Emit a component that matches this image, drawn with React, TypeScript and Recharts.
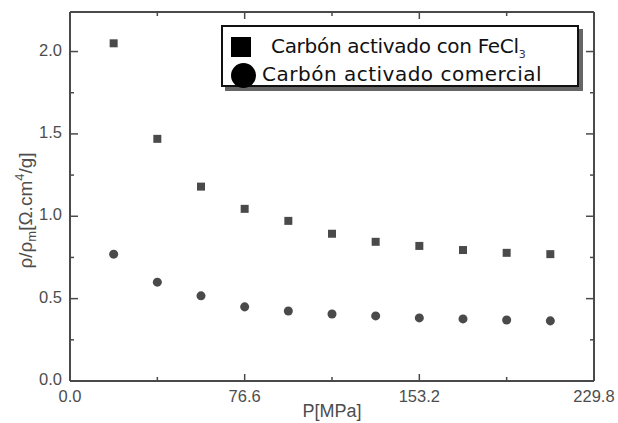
import React from 'react';
import { ScatterChart, Scatter, XAxis, YAxis, ZAxis } from 'recharts';

const pressure = [19.15, 38.3, 57.45, 76.6, 95.75, 114.9, 134.05, 153.2, 172.35, 191.5, 210.65];
const fecl3 = [2.05, 1.47, 1.18, 1.045, 0.972, 0.894, 0.845, 0.82, 0.795, 0.778, 0.77];
const comercial = [0.77, 0.6, 0.517, 0.45, 0.425, 0.407, 0.395, 0.383, 0.377, 0.37, 0.365];
const seriesNames = ['Carbón activado con FeCl', 'Carbón activado comercial'];
const xTicks = [0, 38.3, 76.6, 114.9, 153.2, 191.5, 229.8];
const xTickLabels = ['0.0', '', '76.6', '', '153.2', '', '229.8'];
const yTicks = [0, 0.25, 0.5, 0.75, 1.0, 1.25, 1.5, 1.75, 2.0];
const yTickLabels = ['0.0', '', '0.5', '', '1.0', '', '1.5', '', '2.0'];

const dataFe = pressure.map((p, i) => ({ x: p, y: fecl3[i] }));
const dataCo = pressure.map((p, i) => ({ x: p, y: comercial[i] }));

const AXIS = '#4a4a4a';
const TXT = '#4d4d4d';
const MARK = '#4a4a4a';
const tickFont = { fontFamily: '"Liberation Sans", Arial, sans-serif', fontSize: 16.5, fill: TXT };

const BottomTick = (props: any) => {
  const { x, y, index } = props;
  const major = xTickLabels[index] !== '';
  return (
    <g>
      <line x1={x} y1={y} x2={x} y2={y - (major ? 7 : 4)} stroke={AXIS} strokeWidth={1.5} />
      {major && (
        <text x={x} y={y + 21} textAnchor="middle" {...tickFont}>
          {xTickLabels[index]}
        </text>
      )}
    </g>
  );
};

const TopTick = (props: any) => {
  const { x, y, index } = props;
  const major = xTickLabels[index] !== '';
  return <line x1={x} y1={y} x2={x} y2={y + (major ? 7 : 4)} stroke={AXIS} strokeWidth={1.5} />;
};

const LeftTick = (props: any) => {
  const { x, y, index } = props;
  const major = yTickLabels[index] !== '';
  return (
    <g>
      <line x1={x} y1={y} x2={x + (major ? 8 : 4)} y2={y} stroke={AXIS} strokeWidth={1.5} />
      {major && (
        <text x={x - 8} y={y + 4} textAnchor="end" {...tickFont}>
          {yTickLabels[index]}
        </text>
      )}
    </g>
  );
};

const RightTick = (props: any) => {
  const { x, y, index } = props;
  const major = yTickLabels[index] !== '';
  return <line x1={x} y1={y} x2={x - (major ? 8 : 4)} y2={y} stroke={AXIS} strokeWidth={1.5} />;
};

const YLabel = (props: any) => {
  const vb = props.viewBox || { x: 0, y: 12, width: 70, height: 369 };
  const cx = vb.x + 32;
  const cy = vb.y + vb.height / 2 + 14;
  return (
    <text
      x={cx}
      y={cy}
      transform={`rotate(-90, ${cx}, ${cy})`}
      textAnchor="middle"
      fontFamily='"Liberation Sans", Arial, sans-serif'
      fontSize={19}
      fill={TXT}
    >
      ρ/ρ
      <tspan fontSize={13} dy={4}>m</tspan>
      <tspan dy={-4}>[Ω.cm</tspan>
      <tspan fontSize={13} dy={-8}>4</tspan>
      <tspan dy={8}>/g]</tspan>
    </text>
  );
};

const XLabel = (props: any) => {
  const vb = props.viewBox || { x: 70, y: 381, width: 524, height: 42 };
  return (
    <text
      x={vb.x + vb.width / 2}
      y={vb.y + 36}
      textAnchor="middle"
      fontFamily='"Liberation Sans", Arial, sans-serif'
      fontSize={18}
      fill={TXT}
    >
      P[MPa]
    </text>
  );
};

const LegendBox = () => {
  const font = { fontFamily: '"DejaVu Sans", sans-serif', fontSize: 20, color: '#111' };
  return (
    <div
      style={{
        position: 'absolute',
        left: 221,
        top: 25,
        width: 354,
        height: 58,
        border: '2px solid #111',
        boxShadow: '4px 4px 0 #666',
        background: '#fff',
        boxSizing: 'content-box',
      }}
    >
      <div style={{ position: 'absolute', left: 8, top: 10, width: 20, height: 20, background: '#000' }} />
      <div style={{ ...font, letterSpacing: -0.3, position: 'absolute', left: 48, top: 5, lineHeight: '28px', whiteSpace: 'nowrap' }}>
        {seriesNames[0]}
        <sub style={{ fontSize: 11, color: '#335', letterSpacing: 0 }}>3</sub>
      </div>
      <div style={{ position: 'absolute', left: 8, top: 36, width: 25, height: 25, borderRadius: '50%', background: '#000' }} />
      <div style={{ ...font, letterSpacing: 0.5, position: 'absolute', left: 39, top: 33, lineHeight: '28px', whiteSpace: 'nowrap' }}>
        {seriesNames[1]}
      </div>
    </div>
  );
};

export default function App() {
  return (
    <div style={{ position: 'absolute', left: 0, top: 0, width: 618, height: 423, background: '#fff' }}>
      <ScatterChart width={618} height={423} margin={{ top: 0, right: 0, bottom: 0, left: 0 }}>
        <XAxis
          xAxisId="b"
          type="number"
          dataKey="x"
          domain={[0, 229.8]}
          ticks={xTicks}
          interval={0}
          height={42}
          orientation="bottom"
          axisLine={{ stroke: AXIS, strokeWidth: 2 }}
          tickLine={false}
          tickSize={0}
          tickMargin={0}
          tick={<BottomTick />}
          allowDataOverflow
          label={<XLabel />}
        />
        <XAxis
          xAxisId="t"
          type="number"
          dataKey="x"
          domain={[0, 229.8]}
          ticks={xTicks}
          interval={0}
          height={12}
          orientation="top"
          axisLine={{ stroke: AXIS, strokeWidth: 2 }}
          tickLine={false}
          tickSize={0}
          tickMargin={0}
          tick={<TopTick />}
          allowDataOverflow
        />
        <YAxis
          yAxisId="l"
          type="number"
          dataKey="y"
          domain={[0, 2.24]}
          ticks={yTicks}
          interval={0}
          width={70}
          orientation="left"
          axisLine={{ stroke: AXIS, strokeWidth: 2 }}
          tickLine={false}
          tickSize={0}
          tickMargin={0}
          tick={<LeftTick />}
          allowDataOverflow
          label={<YLabel />}
        />
        <YAxis
          yAxisId="r"
          type="number"
          dataKey="y"
          domain={[0, 2.24]}
          ticks={yTicks}
          interval={0}
          width={24}
          orientation="right"
          axisLine={{ stroke: AXIS, strokeWidth: 2 }}
          tickLine={false}
          tickSize={0}
          tickMargin={0}
          tick={<RightTick />}
          allowDataOverflow
        />
        <ZAxis range={[105, 105]} />
        <Scatter
          name={seriesNames[0]}
          data={dataFe}
          xAxisId="b"
          yAxisId="l"
          shape="square"
          fill={MARK}
          isAnimationActive={false}
        />
        <Scatter
          name={seriesNames[1]}
          data={dataCo}
          xAxisId="b"
          yAxisId="l"
          shape="circle"
          fill={MARK}
          isAnimationActive={false}
        />
      </ScatterChart>
      <LegendBox />
    </div>
  );
}
